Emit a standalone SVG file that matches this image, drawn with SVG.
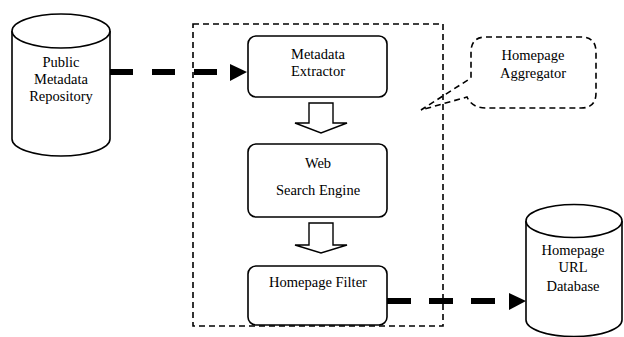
<svg xmlns="http://www.w3.org/2000/svg" width="624" height="337" viewBox="0 0 624 337">
<style>
  .bg { fill: #ffffff; }
  .box { fill: #ffffff; stroke: #000; stroke-width: 1.6; }
  .cyl { fill: #ffffff; stroke: #000; stroke-width: 1.6; }
  .dashbox { fill: none; stroke: #000; stroke-width: 1.6; stroke-dasharray: 6 4; }
  .conn { fill: none; stroke: #000; stroke-width: 6; }
  .head { fill: #000; stroke: none; }
  .block { fill: #ffffff; stroke: #000; stroke-width: 1.4; stroke-linejoin: miter; }
  .lbl { font-size: 14.5px; fill: #000; text-anchor: middle; }
</style>
<rect class="bg" x="0" y="0" width="624" height="337"/>

<g id="container">
  <rect class="dashbox" x="193" y="24" width="250" height="302"/>
</g>

<g font-family="Liberation Serif, Tinos, Times New Roman, DejaVu Serif, serif">
<g id="public-metadata-repository">
  <path class="cyl" d="M12,31 V139 A49,17 0 0 0 110,139 V31"/>
  <ellipse class="cyl" cx="61" cy="31" rx="49" ry="17"/>
  <text class="lbl" x="61" y="67">Public</text>
  <text class="lbl" x="61" y="84">Metadata</text>
  <text class="lbl" x="61" y="101">Repository</text>
</g>

<g id="metadata-extractor">
  <rect class="box" x="248" y="36" width="139" height="61" rx="8"/>
  <text class="lbl" x="318" y="59">Metadata</text>
  <text class="lbl" x="318" y="76">Extractor</text>
</g>

<g id="web-search-engine">
  <rect class="box" x="248" y="144" width="139" height="73" rx="8"/>
  <text class="lbl" x="318" y="168">Web</text>
  <text class="lbl" x="318" y="195">Search Engine</text>
</g>

<g id="homepage-filter">
  <rect class="box" x="248" y="266" width="139" height="59" rx="8"/>
  <text class="lbl" x="318" y="287">Homepage Filter</text>
</g>

<g id="homepage-url-database">
  <path class="cyl" d="M526,221 V320 A48,16.5 0 0 0 622,320 V221"/>
  <ellipse class="cyl" cx="574" cy="221" rx="48" ry="16.5"/>
  <text class="lbl" x="573" y="255">Homepage</text>
  <text class="lbl" x="573" y="272">URL</text>
  <text class="lbl" x="573" y="291">Database</text>
</g>

<g id="homepage-aggregator">
  <path class="dashbox" d="M486,37 H581 Q596,37 596,52 V93 Q596,108 581,108 H486 Q472,108 467,97 L421,110 L471,78 V52 Q471,37 486,37 Z"/>
  <text class="lbl" x="533" y="60">Homepage</text>
  <text class="lbl" x="533" y="78">Aggregator</text>
</g>
</g>

<g id="connectors">
  <line class="conn" x1="110" y1="72" x2="230" y2="72" stroke-dasharray="23 19"/>
  <polygon class="head" points="230,64 247,72 230,81"/>
  <line class="conn" x1="387" y1="301" x2="509" y2="301" stroke-dasharray="24 18"/>
  <polygon class="head" points="509,293 526,301 509,310"/>
  <polygon class="block" points="309,103 333,103 333,123 347,123 321,133 295,123 309,123"/>
  <polygon class="block" points="309,223 333,223 333,245 347,245 321,253 295,245 309,245"/>
</g>
</svg>
